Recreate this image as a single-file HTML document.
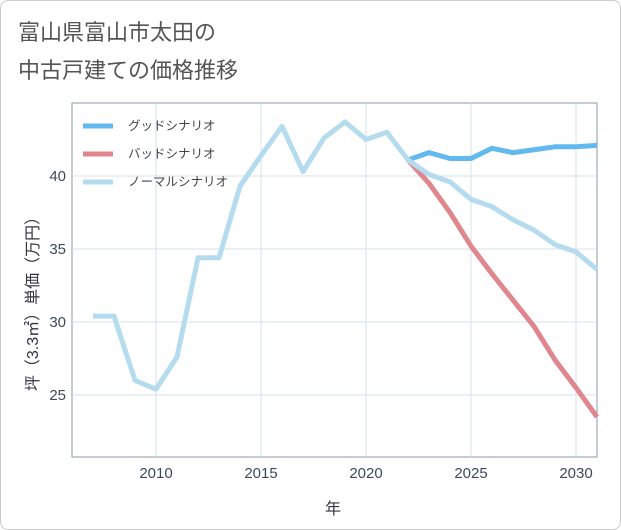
<!DOCTYPE html>
<html><head><meta charset="utf-8"><style>
body{margin:0;background:#fff;font-family:"Liberation Sans","Noto Sans CJK JP",sans-serif;}
#wrap{position:relative;width:619px;height:528px;border:1px solid #ccc;border-radius:8px;background:#fff;}
</style></head><body>
<div id="wrap">
<svg id="chart" width="621" height="530" style="position:absolute;left:-1px;top:-1px">
<text x="18" y="40" font-size="22" fill="#555" font-family="Liberation Sans,Noto Sans CJK JP,sans-serif">富山県富山市太田の</text>
<text x="18" y="78" font-size="22" fill="#555" font-family="Liberation Sans,Noto Sans CJK JP,sans-serif">中古戸建ての価格推移</text>
<rect x="72" y="103" width="525" height="354" fill="none" stroke="#8a9aa8" stroke-width="1"/>
<g id="grid"></g><g id="series"></g><g id="axes"></g>
<text x="333" y="514" font-size="16" fill="#334" text-anchor="middle" font-family="Liberation Sans,Noto Sans CJK JP,sans-serif">年</text>
<text transform="translate(38,300) rotate(-90)" font-size="16" fill="#334" text-anchor="middle" font-family="Liberation Sans,Noto Sans CJK JP,sans-serif">坪（3.3㎡）単価（万円）</text>
<g id="legend"></g>
</svg></div>
<script>
const years=[2007,2008,2009,2010,2011,2012,2013,2014,2015,2016,2017,2018,2019,2020,2021,2022,2023,2024,2025,2026,2027,2028,2029,2030,2031];
const normalVals=[30.4,30.4,26,25.4,27.6,34.4,34.4,39.3,41.4,43.4,40.3,42.6,43.7,42.5,43.0,41.1,40.1,39.6,38.4,37.9,37.0,36.3,35.3,34.8,33.6];
const futureYears=[2022,2023,2024,2025,2026,2027,2028,2029,2030,2031];
const goodVals=[41.1,41.6,41.2,41.2,41.9,41.6,41.8,42.0,42.0,42.1];
const badVals=[41.1,39.5,37.5,35.2,33.3,31.5,29.7,27.4,25.5,23.5];
const xTicks=[2010,2015,2020,2025,2030];
const yTicks=[25,30,35,40];
const legendLabels=["グッドシナリオ","バッドシナリオ","ノーマルシナリオ"];
const NS="http://www.w3.org/2000/svg";
const X=v=>156+(v-2010)*21;
const Y=v=>176-(v-40)*14.6;
function mk(tag,attrs,parent){const e=document.createElementNS(NS,tag);for(const k in attrs)e.setAttribute(k,attrs[k]);parent.appendChild(e);return e;}
const grid=document.getElementById('grid'),axes=document.getElementById('axes'),ser=document.getElementById('series'),leg=document.getElementById('legend');
xTicks.forEach(t=>{
 const l=mk('line',{x1:X(t),x2:X(t),y1:103,y2:457,stroke:'#d6e2ea'},grid);
 
 
 const tx=mk('text',{x:X(t),y:478,'font-size':15,fill:'#3c4a5a','text-anchor':'middle'},axes);
 tx.textContent=t;
 
 
});
yTicks.forEach(t=>{
 const l=mk('line',{x1:72,x2:597,y1:Y(t),y2:Y(t),stroke:'#d6e2ea'},grid);
 
 
 const tx=mk('text',{x:66,y:Y(t)+5,'font-size':15,fill:'#3c4a5a','text-anchor':'end'},axes);
 tx.textContent=t;
 
 
});
function line(xs,vs,color,name){
 const p=mk('polyline',{points:xs.map((x,i)=>X(x)+','+Y(vs[i])).join(' '),fill:'none',stroke:color,'stroke-width':5,'stroke-linejoin':'round'},ser);
 
 
}
line(futureYears,goodVals,'#62b9f0','good-scenario-line');
line(futureYears,badVals,'#e0868e','bad-scenario-line');
line(years,normalVals,'#b5dcee','normal-scenario-line');
const cols=['#62b9f0','#e0868e','#b5dcee'];
legendLabels.forEach((lab,i)=>{
 const y=126+i*28;
 const g=mk('g',{},leg);
 
 
 mk('line',{x1:83,x2:113,y1:y,y2:y,stroke:cols[i],'stroke-width':5},g);
 const t=mk('text',{x:128,y:y+4,'font-size':12.5,fill:'#444'},g);
 t.textContent=lab;
});
</script>
</body></html>
